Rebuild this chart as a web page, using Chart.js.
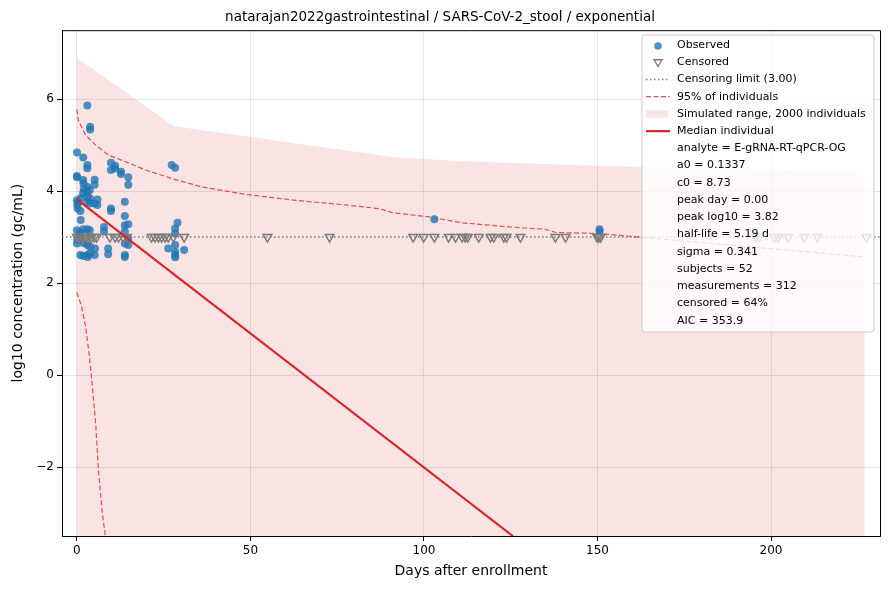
<!DOCTYPE html>
<html>
<head>
<meta charset="utf-8">
<script src="https://cdn.jsdelivr.net/npm/chart.js@4.4.1/dist/chart.umd.min.js"></script>
<style>
  body { margin: 0; background: #fff; }
</style>
</head>
<body>
<canvas id="chart" width="890" height="590"></canvas>
<script>
// axis range and ticks
const xMin = -4.3, xMax = 231.4;
const yMin = -3.5, yMax = 7.5;
const xTicks = [0, 50, 100, 150, 200];
const yTicks = [-2, 0, 2, 4, 6];
const censLimit = 3.0;

// observed measurements (day, log10 gc/mL)
const obsDays = [
  0, 0, 0, 0, 0.1, 0.2, 0, 0, 0.1, 0.3,
  1.0, 1.1, 1.0, 1.2, 0.9,
  1.8, 1.8, 1.9, 2.0, 1.8, 1.8, 1.9, 1.8,
  3.0, 3.0, 3.0, 3.0, 2.9, 3.1, 3.0, 3.0, 3.0, 3.0, 3.1,
  3.8, 3.8, 3.7, 3.8, 3.8, 3.7, 3.8, 3.8,
  5.1, 5.1, 5.1, 5.2, 5.1,
  5.9, 5.9,
  7.8, 7.8,
  9.0, 9.0,
  9.8, 9.8, 9.8, 9.8,
  11.0, 11.0,
  12.7, 12.7,
  13.8, 13.8, 13.8, 13.8, 13.8, 13.8, 13.8,
  14.8, 14.8, 14.8, 14.8, 14.8,
  26.3, 27.3,
  28.3, 28.3, 28.3, 28.3, 28.3, 28.3, 28.3,
  29.0, 30.9,
  103.0, 150.6, 150.6
];
const obsLog10 = [
  4.84, 4.33, 4.30, 3.80, 3.70, 3.62, 3.15, 2.86, 2.95, 3.75,
  3.57, 3.37, 2.61, 3.85, 3.10,
  4.73, 4.24, 4.17, 4.05, 3.96, 3.17, 2.87, 2.59,
  5.86, 4.57, 4.50, 4.09, 3.99, 3.88, 3.77, 3.17, 2.83, 2.61, 2.57,
  5.40, 5.34, 4.02, 3.84, 3.73, 3.15, 2.79, 2.65,
  4.25, 4.14, 3.73, 2.75, 2.61,
  3.82, 3.70,
  3.22, 3.12,
  2.75, 2.63,
  4.62, 4.46, 3.62, 3.57,
  4.55, 4.49,
  4.42, 4.37,
  3.77, 3.46, 3.26, 3.12, 2.86, 2.61, 2.57,
  4.30, 4.14, 3.28, 2.97, 2.83,
  2.75, 4.57,
  4.51, 3.19, 3.08, 2.83, 2.68, 2.61, 2.56,
  3.31, 2.72,
  3.39, 3.17, 3.12
];

// censored measurements (all at the censoring limit)
const censDays = [
  0, 0.7, 1.4, 2.1, 2.8, 3.5, 4.2, 5.0, 5.7,
  9.5, 11.0, 12.0, 13.3, 14.4,
  21.5, 22.5, 23.5, 24.4, 25.4, 26.3, 27.8, 30.9,
  54.9, 72.8, 96.9, 99.9, 103.0, 107.1, 109.1, 111.0, 111.9, 112.6,
  115.8, 119.2, 120.1, 123.0, 123.8, 127.8, 137.9, 140.8,
  149.9, 150.4, 150.9,
  195.6, 196.6, 201.0, 202.0, 205.0, 209.6, 213.4, 227.5
];

// simulated range upper edge (lower edge is below the plot)
const simDays = [0, 0.3, 28, 92, 111, 150, 227];
const simUpper = [6.99, 6.88, 5.41, 4.73, 4.65, 4.55, 4.42];

// 95% of individuals
const upperDays = [0, 0.4, 2.5, 5.4, 9.2, 14, 19.8, 27.5, 36.1, 48.6, 63, 77.5, 87, 91, 101.5, 111, 125, 135, 138, 150, 162, 227];
const upper95 = [5.78, 5.54, 5.22, 5.00, 4.78, 4.64, 4.46, 4.27, 4.09, 3.93, 3.80, 3.70, 3.62, 3.53, 3.44, 3.31, 3.22, 3.17, 3.10, 3.08, 3.00, 2.57];
const lowerDays = [0, 1.35, 2.5, 3.5, 4.2, 5.4, 6.2, 7.3, 8.1, 9.0];
const lower95 = [1.80, 1.49, 1.05, 0.47, -0.04, -1.05, -2.07, -3.00, -3.44, -4.20];

// median individual
const medianDays = [0, 125.6];
const medianLog10 = [3.82, -3.5];

const statLines = [
  "analyte = E-gRNA-RT-qPCR-OG",
  "a0 = 0.1337",
  "c0 = 8.73",
  "peak day = 0.00",
  "peak log10 = 3.82",
  "half-life = 5.19 d",
  "sigma = 0.341",
  "subjects = 52",
  "measurements = 312",
  "censored = 64%",
  "AIC = 353.9"
];

function pts(xs, ys) {
  return xs.map((x, i) => ({ x: x, y: ys[i] }));
}

const RED = "#d62728";
const RED_DASH = "rgba(214, 39, 40, 0.78)";
const BLUE = "rgba(31, 119, 180, 0.8)";
const GREY = "#7a7a7a";
const FILL = "rgba(214, 39, 40, 0.13)";

/* legend + top/right frame drawn on the canvas */
const panel = {
  id: "panel",
  afterDatasetsDraw(chart) {
    const ctx = chart.ctx;
    const a = chart.chartArea;
    ctx.save();
    ctx.strokeStyle = "#000";
    ctx.lineWidth = 1;
    ctx.beginPath();
    ctx.moveTo(a.left, a.top + 0.5);
    ctx.lineTo(a.right + 0.5, a.top + 0.5);
    ctx.lineTo(a.right + 0.5, a.bottom);
    ctx.stroke();
    ctx.restore();
  },
  afterDraw(chart) {
    const ctx = chart.ctx;
    const left = 642, top = 35, w = 232, h = 297, r = 3;
    const rowH = 17.23, row0 = 45, textX = 677;
    ctx.save();
    ctx.beginPath();
    ctx.moveTo(left + r, top);
    ctx.lineTo(left + w - r, top);
    ctx.arcTo(left + w, top, left + w, top + r, r);
    ctx.lineTo(left + w, top + h - r);
    ctx.arcTo(left + w, top + h, left + w - r, top + h, r);
    ctx.lineTo(left + r, top + h);
    ctx.arcTo(left, top + h, left, top + h - r, r);
    ctx.lineTo(left, top + r);
    ctx.arcTo(left, top, left + r, top, r);
    ctx.closePath();
    ctx.fillStyle = "rgba(255,255,255,0.8)";
    ctx.fill();
    ctx.strokeStyle = "#cccccc";
    ctx.lineWidth = 1;
    ctx.stroke();

    const labels = chart.data.datasets
      .filter(d => d.legendRow !== undefined)
      .sort((p, q) => p.legendRow - q.legendRow);
    const hx0 = 646, hx1 = 670, hc = 658;
    labels.forEach((d, i) => {
      const y = row0 + i * rowH;
      ctx.save();
      if (d.legendRow === 0) {
        ctx.fillStyle = BLUE;
        ctx.beginPath();
        ctx.arc(hc, y + 1, 3.8, 0, Math.PI * 2);
        ctx.fill();
      } else if (d.legendRow === 1) {
        ctx.strokeStyle = GREY;
        ctx.lineWidth = 1.3;
        ctx.beginPath();
        ctx.moveTo(hc - 4, y - 2.5);
        ctx.lineTo(hc + 4, y - 2.5);
        ctx.lineTo(hc, y + 4.2);
        ctx.closePath();
        ctx.stroke();
      } else if (d.legendRow === 4) {
        ctx.fillStyle = FILL;
        ctx.fillRect(hx0, y - 3.7, 22, 7.4);
      } else {
        ctx.strokeStyle = d.borderColor;
        ctx.lineWidth = d.borderWidth;
        ctx.setLineDash(d.borderDash || []);
        ctx.beginPath();
        ctx.moveTo(hx0, y);
        ctx.lineTo(hx1, y);
        ctx.stroke();
      }
      ctx.restore();
    });

    const texts = labels.map(d => d.label).concat(statLines);
    ctx.fillStyle = "#000";
    ctx.font = "11px 'DejaVu Sans'";
    ctx.textBaseline = "middle";
    ctx.textAlign = "left";
    texts.forEach((t, i) => {
      ctx.fillText(t, textX, row0 + i * rowH);
    });
    ctx.restore();
  }
};

Chart.defaults.font.family = "'DejaVu Sans'";
Chart.defaults.color = "#000";

const ctx = document.getElementById("chart");
const chart = new Chart(ctx, {
  type: "line",
  data: {
    datasets: [
      {
        label: "Median individual",
        legendRow: 5,
        data: pts(medianDays, medianLog10),
        borderColor: RED,
        borderWidth: 2.2,
        pointRadius: 0,
        fill: false
      },
      {
        label: "Censored",
        legendRow: 1,
        data: censDays.map(d => ({ x: d, y: censLimit })),
        showLine: false,
        pointStyle: "triangle",
        rotation: 180,
        pointRadius: 5,
        pointBorderColor: GREY,
        pointBackgroundColor: "rgba(0,0,0,0)",
        pointBorderWidth: 1.5
      },
      {
        label: "Observed",
        legendRow: 0,
        data: pts(obsDays, obsLog10),
        showLine: false,
        pointRadius: 4,
        pointBackgroundColor: BLUE,
        pointBorderWidth: 0
      },
      {
        label: "95% of individuals",
        legendRow: 3,
        data: pts(upperDays, upper95),
        borderColor: RED_DASH,
        borderWidth: 1.2,
        borderDash: [5, 2.5],
        pointRadius: 0,
        fill: false
      },
      {
        label: "95% lower",
        data: pts(lowerDays, lower95),
        borderColor: RED_DASH,
        borderWidth: 1.2,
        borderDash: [5, 2.5],
        pointRadius: 0,
        fill: false
      },
      {
        label: "Censoring limit (3.00)",
        legendRow: 2,
        data: [{ x: xMin, y: censLimit }, { x: xMax, y: censLimit }],
        borderColor: GREY,
        borderWidth: 1.5,
        borderDash: [1.5, 2.5],
        pointRadius: 0,
        fill: false
      },
      {
        label: "Simulated range, 2000 individuals",
        legendRow: 4,
        data: pts(simDays, simUpper),
        borderWidth: 0,
        borderColor: "rgba(0,0,0,0)",
        backgroundColor: FILL,
        pointRadius: 0,
        fill: "start"
      }
    ]
  },
  options: {
    responsive: false,
    animation: false,
    events: [],
    layout: { padding: { left: 0, right: 10, top: 0, bottom: 0 } },
    plugins: {
      legend: { display: false },
      tooltip: { enabled: false },
      title: {
        display: true,
        text: "natarajan2022gastrointestinal / SARS-CoV-2_stool / exponential",
        font: { size: 13.5, weight: "normal" },
        color: "#000",
        padding: { top: 9, bottom: 5 }
      }
    },
    scales: {
      x: {
        type: "linear",
        min: xMin,
        max: xMax,
        afterBuildTicks: s => { s.ticks = xTicks.map(v => ({ value: v })); },
        afterFit: s => { s.height = 54; },
        ticks: {
          font: { size: 12 },
          color: "#000",
          padding: 3,
          maxRotation: 0,
          callback: v => (v < 0 ? "\u2212" + Math.abs(v) : String(v))
        },
        grid: {
          color: "rgba(176,176,176,0.4)",
          lineWidth: 0.8,
          tickColor: "#000",
          tickLength: 5,
          tickWidth: 1
        },
        border: { display: true, color: "#000", width: 1 },
        title: {
          display: true,
          text: "Days after enrollment",
          font: { size: 14 },
          color: "#000",
          padding: { top: 0, bottom: 10 }
        }
      },
      y: {
        type: "linear",
        min: yMin,
        max: yMax,
        afterBuildTicks: s => { s.ticks = yTicks.map(v => ({ value: v })); },
        afterFit: s => { s.width = 62; },
        ticks: {
          font: { size: 12 },
          color: "#000",
          padding: 3,
          callback: v => (v < 0 ? "\u2212" + Math.abs(v) : String(v))
        },
        grid: {
          color: "rgba(176,176,176,0.4)",
          lineWidth: 0.8,
          tickColor: "#000",
          tickLength: 5,
          tickWidth: 1
        },
        border: { display: true, color: "#000", width: 1 },
        title: {
          display: true,
          text: "log10 concentration (gc/mL)",
          font: { size: 14 },
          color: "#000",
          padding: { top: 10, bottom: 0 }
        }
      }
    }
  },
  plugins: [panel]
});
</script>
</body>
</html>
